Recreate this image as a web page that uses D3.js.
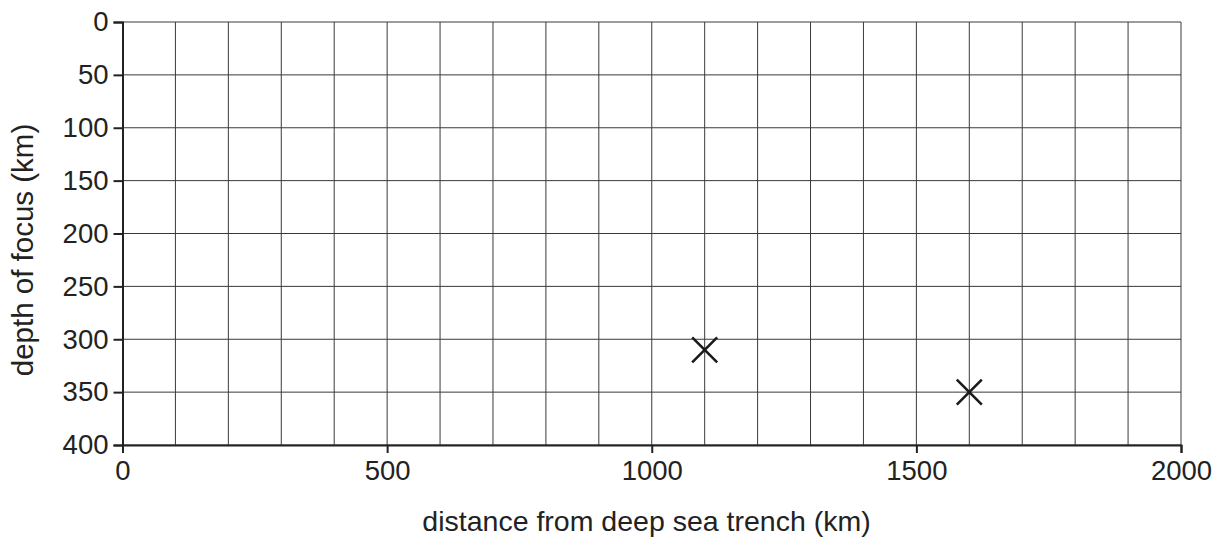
<!DOCTYPE html>
<html><head><meta charset="utf-8">
<script src="https://cdn.jsdelivr.net/npm/d3@7"></script>
<style>body{margin:0;background:#fff}</style>
</head><body>
<svg id="c" width="1225" height="548"></svg>
<script>
const xTicks = [0, 500, 1000, 1500, 2000];
const yTicks = [0, 50, 100, 150, 200, 250, 300, 350, 400];
const xGrid = d3.range(0, 2001, 100);
const distance = [1100, 1600];
const depth = [310, 350];
const xTitle = "distance from deep sea trench (km)";
const yTitle = "depth of focus (km)";

const svg = d3.select("#c");
const L = 122.5, R = 1181, T = 22, B = 445;
const x = d3.scaleLinear().domain([0, 2000]).range([L, R]);
const y = d3.scaleLinear().domain([0, 400]).range([T, B]);
const font = "'Liberation Sans', Arial, Helvetica, sans-serif";
const fs = 27.5;

// grid
svg.append("g").selectAll("line").data(xGrid).join("line")
  .attr("x1", d => x(d)).attr("x2", d => x(d)).attr("y1", T).attr("y2", B)
  .attr("stroke", "#3a3a3a").attr("stroke-width", 1);
svg.append("g").selectAll("line").data(yTicks).join("line")
  .attr("y1", d => y(d)).attr("y2", d => y(d)).attr("x1", L).attr("x2", R)
  .attr("stroke", "#3a3a3a").attr("stroke-width", 1);

// axes
const xa = svg.append("g").attr("transform", `translate(0,${B})`)
  .call(d3.axisBottom(x).tickValues(xTicks).tickSize(8).tickPadding(7).tickFormat(d3.format("d")));
const ya = svg.append("g").attr("transform", `translate(${L},0)`)
  .call(d3.axisLeft(y).tickValues(yTicks).tickSize(9).tickPadding(5).tickFormat(d3.format("d")));
[xa, ya].forEach(a => {
  a.select(".domain").attr("stroke", "#222").attr("stroke-width", 2);
  a.selectAll(".tick line").attr("stroke", "#222").attr("stroke-width", 2);
  a.selectAll("text").attr("font-family", font).attr("font-size", fs).attr("fill", "#222");
});

// titles
svg.append("text").attr("x", 646.5).attr("y", 531).attr("text-anchor", "middle")
  .attr("font-family", font).attr("font-size", 28.5).attr("fill", "#222").text(xTitle);
svg.append("text").attr("transform", `translate(33,250) rotate(-90)`)
  .attr("text-anchor", "middle")
  .attr("font-family", font).attr("font-size", 29.5).attr("fill", "#222").text(yTitle);

// crosses
const pts = distance.map((d, i) => [d, depth[i]]);
const s = 12.5;
svg.append("g").selectAll("path").data(pts).join("path")
  .attr("d", d => { const cx = x(d[0]), cy = y(d[1]);
    return `M${cx - s},${cy - s}L${cx + s},${cy + s}M${cx - s},${cy + s}L${cx + s},${cy - s}`; })
  .attr("stroke", "#1a1a1a").attr("stroke-width", 2.6).attr("fill", "none");
</script>
</body></html>
